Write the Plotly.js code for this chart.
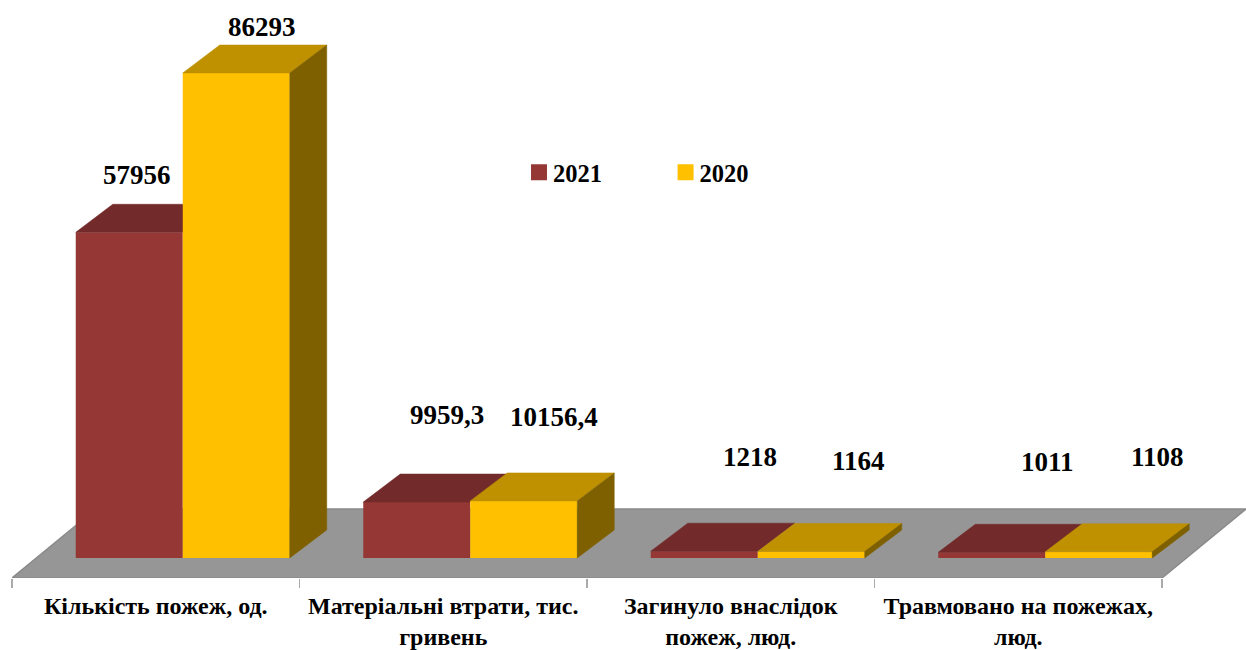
<!DOCTYPE html>
<html>
<head>
<meta charset="utf-8">
<script src="https://cdn.plot.ly/plotly-3.0.1.min.js"></script>
<style>
html,body{margin:0;padding:0;background:#fff;overflow:hidden}
#chart{width:1246px;height:650px}
/* Excel-like legend key: 16px square, text closer to the key */
.legend .legendpoints path{transform:translate(15px,0) scale(1.3333)}
.legend .legendtext{transform:translateX(-11px)}
</style>
</head>
<body>
<div id="chart"></div>
<script>
const categories = ['Кількість пожеж, од.', 'Матеріальні втрати, тис.<br>гривень', 'Загинуло внаслідок<br>пожеж, люд.', 'Травмовано на пожежах,<br>люд.'];
const values2021 = [57956, 9959.3, 1218, 1011];
const values2020 = [86293, 10156.4, 1164, 1108];
const labels2021 = ['57956', '9959,3', '1218', '1011'];
const labels2020 = ['86293', '10156,4', '1164', '1108'];
const shift2021 = [[8, 57], [30, 87], [46, 94], [56, 90]];
const shift2020 = [[26, 46], [30, 84], [47, 90], [59, 95]];

const W = 1246, H = 650, L = 12, B = 578, BASE = 558;
const catW = 287.5, pxPerUnit = 485 / 86293;
const xPx = px => px / catW, yPx = px => px / pxPerUnit;
const barW = xPx(107), groupShift = xPx(27), half = xPx(53.5);
const dx = xPx(37), dy = yPx(28);
const centers = categories.map((_, i) => i);
const xRange = [-0.5, -0.5 + xPx(W - L)];
const yRange = [-yPx(B - BASE), yPx(BASE)];
const FONT = '"Liberation Serif", "Times New Roman", serif';

function facePolys(xs, vals, mode) {
  const X = [], Y = [];
  xs.forEach((x, i) => {
    const l = x - barW / 2, r = x + barW / 2, v = vals[i];
    if (mode === 'top') {
      X.push(l, l + dx, r + dx, r, l, null);
      Y.push(v, v + dy, v + dy, v, v, null);
    } else {
      X.push(r, r + dx, r + dx, r, r, null);
      Y.push(0, dy, v + dy, v, 0, null);
    }
  });
  return {x: X, y: Y};
}
function face(xs, vals, mode, color, xa, ya) {
  const p = facePolys(xs, vals, mode);
  return {type: 'scatter', mode: 'lines', x: p.x, y: p.y, xaxis: xa, yaxis: ya,
    fill: 'toself', fillcolor: color, line: {width: 0.5, color: color},
    showlegend: false, hoverinfo: 'skip'};
}
const x2021 = centers.map(c => c + groupShift - half);
const x2020 = centers.map(c => c + groupShift + half);

const floorDepthX = xPx(84), floorDepthY = yPx(69);
const fy0 = yRange[0], fy1 = yRange[0] + floorDepthY;
const floorPath = `M -0.5 ${fy0} L 3.5 ${fy0} L ${3.5 + floorDepthX} ${fy1} L ${-0.5 + floorDepthX} ${fy1} Z`;

const traces = [
  {type: 'bar', name: '2021', x: x2021, y: values2021, width: barW, xaxis: 'x', yaxis: 'y', marker: {color: '#953735'}},
  face(x2021, values2021, 'top', '#722a2a', 'x', 'y'),
  {type: 'bar', name: '2020', x: x2020, y: values2020, width: barW, xaxis: 'x2', yaxis: 'y2', marker: {color: '#ffc000'}},
  face(x2020, values2020, 'top', '#bf9000', 'x2', 'y2'),
  face(x2020, values2020, 'side', '#7f6000', 'x2', 'y2')
];

function notes(xs, vals, labels, shifts) {
  return xs.map((x, i) => ({
    x: x, y: vals[i], xref: 'x', yref: 'y', text: labels[i], showarrow: false,
    xanchor: 'center', yanchor: 'middle', xshift: shifts[i][0], yshift: shifts[i][1],
    font: {family: FONT, size: 27, color: '#000', weight: 700}
  }));
}

const layout = {
  width: W, height: H, autosize: false,
  margin: {l: L, r: 0, t: 0, b: H - B, pad: 0},
  paper_bgcolor: '#fff', plot_bgcolor: 'rgba(0,0,0,0)',
  hovermode: false, barmode: 'overlay',
  font: {family: FONT, color: '#000'},
  showlegend: true,
  legend: {orientation: 'h', x: 0.4149, xanchor: 'left', y: 0.702, yanchor: 'middle',
    font: {family: FONT, size: 24.5, color: '#000', weight: 700},
    bgcolor: 'rgba(0,0,0,0)', entrywidth: 101.6, entrywidthmode: 'pixels',
    traceorder: 'normal', itemclick: false, itemdoubleclick: false},
  xaxis: {range: xRange, type: 'linear', fixedrange: true, showgrid: false, zeroline: false,
    showline: false, tickmode: 'array', tickvals: [-0.5, 0.5, 1.5, 2.5, 3.5], ticktext: ['', '', '', '', ''],
    ticks: 'outside', ticklen: 9, tickwidth: 1.5, tickcolor: '#aaaaaa'},
  yaxis: {range: yRange, fixedrange: true, visible: false},
  xaxis2: {range: xRange, type: 'linear', overlaying: 'x', anchor: 'y2', side: 'bottom', fixedrange: true,
    showgrid: false, zeroline: false, showline: false,
    tickmode: 'array', tickvals: centers, ticktext: categories, ticks: '', ticklen: 0, tickangle: 0,
    automargin: false, ticklabelstandoff: 11,
    tickfont: {family: FONT, size: 24, color: '#000', weight: 700}},
  yaxis2: {range: yRange, overlaying: 'y', fixedrange: true, visible: false},
  shapes: [{type: 'path', xref: 'x', yref: 'y', layer: 'below', path: floorPath,
    fillcolor: '#969696', line: {color: '#8a8a8a', width: 1.5}}],
  annotations: notes(x2021, values2021, labels2021, shift2021).concat(notes(x2020, values2020, labels2020, shift2020))
};
Plotly.newPlot('chart', traces, layout, {displayModeBar: false, staticPlot: true, responsive: false});
</script>
</body>
</html>
